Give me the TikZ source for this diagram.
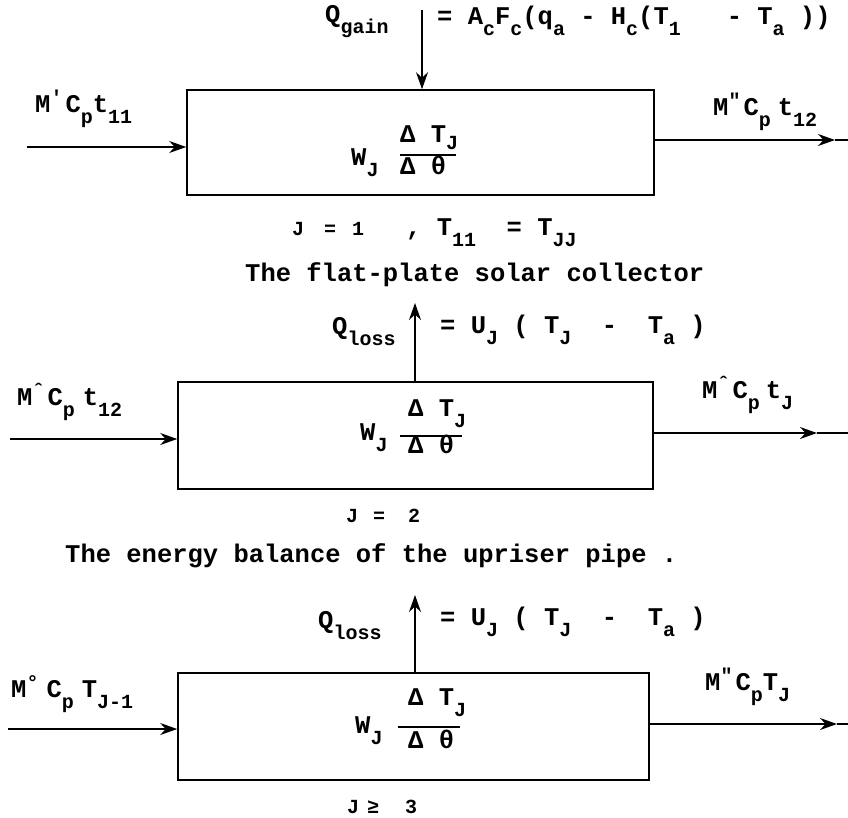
\documentclass[tikz,border=0pt]{standalone}
\usepackage{fontspec}
\setmainfont{Liberation Mono}
\usepackage{tikz}
\usetikzlibrary{arrows.meta,positioning}

\newcommand{\lofont}{\fontsize{20}{24}\selectfont}
\newcommand{\lo}[1]{\raisebox{-11pt}{\lofont #1}}
\newcommand{\mflow}[1]{M\makebox[15pt][l]{\raisebox{8pt}{\lofont #1}}}

\begin{document}
\begin{tikzpicture}[x=1pt, y=-1pt, >={Stealth[length=17pt,width=12pt]},
    font=\bfseries\fontsize{25.5}{30}\selectfont,
    box/.style={draw, line width=1.6pt, inner sep=0pt},
    lbl/.style={anchor=base west, inner sep=0pt},
    flow/.style={line width=1.4pt}]
  \fill[white] (0,0) rectangle (848,817);
  \useasboundingbox (0,0) rectangle (848,817);

  % collector, J = 1
  \node[box, minimum width=467pt, minimum height=105pt] (b1) at (420.5,142.5) {};
  \coordinate (i1) at (27,147);
  \coordinate (o1) at (835,140);
  \coordinate (e1) at (848,140);
  \coordinate (g1) at (422,10);
  \draw[flow,->] (i1) -- (i1 -| b1.west);
  \draw[flow,->] (b1.east |- o1) -- (o1);
  \draw[flow] (o1) -- (e1);
  \draw[flow,->] (g1) -- (g1 |- b1.north);
  \node[lbl] (qg) at (325,22) {Q\lo{gain}};
  \node[lbl] (eqg) at (437,24) {=~A\lo{c}F\lo{c}(q\lo{a}~-~H\lo{c}(T\lo{1}~~~-~T\lo{a}~))};
  \node[lbl] (m1) at (35,112) {\mflow{′}C\lo{p}t\lo{11}};
  \node[lbl] (m2) at (713,115) {\mflow{″}C\lo{p}\hspace{7pt}t\lo{12}};
  \node[lbl] (w1) at (351,165) {W\lo{J}};
  \node[lbl] (n1) at (400,142) {Δ~T\raisebox{-7pt}{\lofont J}};
  \draw[flow] (400,155) -- (456,155);
  \node[lbl] (d1) at (400,174) {Δ~θ};
  \node[lbl] (c1) at (292,235) {\lofont J\hspace{20pt}=\hspace{16pt}1\hspace{42pt}{\fontsize{25.5}{30}\selectfont ,~T\lo{11}~~=~T\lo{JJ}}};
  \node[lbl] (cap1) at (245,281) {The flat-plate solar collector};

  % upriser pipe, J = 2
  \node[box, minimum width=475pt, minimum height=107pt] (b2) at (415.5,435.5) {};
  \coordinate (i2) at (10,439);
  \coordinate (o2) at (817,433);
  \coordinate (e2) at (848,433);
  \coordinate (l2) at (415,303);
  \draw[flow,->] (i2) -- (i2 -| b2.west);
  \draw[flow,->] (b2.east |- o2) -- (o2);
  \draw[flow] (o2) -- (e2);
  \draw[flow,->] (l2 |- b2.north) -- (l2);
  \node[lbl] (ql2) at (332,334) {Q\lo{loss}};
  \node[lbl] (eql2) at (440,333) {=~U\lo{J}~(~T\lo{J}~~-~~T\lo{a}~)};
  \node[lbl] (m3) at (17,405) {\mflow{ˆ}C\lo{p}\hspace{8pt}t\lo{12}};
  \node[lbl] (m4) at (702,398) {\mflow{ˆ}C\lo{p}\hspace{6pt}t\lo{J}};
  \node[lbl] (w2) at (360,440) {W\lo{J}};
  \node[lbl] (n2) at (408,416) {Δ~T\lo{J}};
  \draw[flow] (400,436) -- (462,436);
  \node[lbl] (d2) at (408,453) {Δ~θ};
  \node[lbl] (c2) at (346,522) {\lofont J\hspace{15pt}=\hspace{23pt}2};
  \node[lbl] (cap2) at (65,562) {The energy balance of the upriser pipe .};

  % pipe sections, J >= 3
  \node[box, minimum width=471pt, minimum height=107pt] (b3) at (413.5,726.5) {};
  \coordinate (i3) at (8,729);
  \coordinate (o3) at (837,724);
  \coordinate (e3) at (848,724);
  \coordinate (l3) at (415,595);
  \draw[flow,->] (i3) -- (i3 -| b3.west);
  \draw[flow,->] (b3.east |- o3) -- (o3);
  \draw[flow] (o3) -- (e3);
  \draw[flow,->] (l3 |- b3.north) -- (l3);
  \node[lbl] (ql3) at (318,628) {Q\lo{loss}};
  \node[lbl] (eql3) at (440,625) {=~U\lo{J}~(~T\lo{J}~~-~~T\lo{a}~)};
  \node[lbl] (m5) at (11,697) {\mflow{°}\hspace{5pt}C\lo{p}\hspace{8pt}T\lo{J-1}};
  \node[lbl] (m6) at (705,690) {\mflow{″}C\lo{p}T\lo{J}};
  \node[lbl] (w3) at (355,733) {W\lo{J}};
  \node[lbl] (n3) at (408,705) {Δ~T\lo{J}};
  \draw[flow] (398,727) -- (460,727);
  \node[lbl] (d3) at (408,748) {Δ~θ};
  \node[lbl] (c3) at (347,813) {\lofont J\hspace{8pt}≥\hspace{26pt}3};
\end{tikzpicture}
\end{document}
